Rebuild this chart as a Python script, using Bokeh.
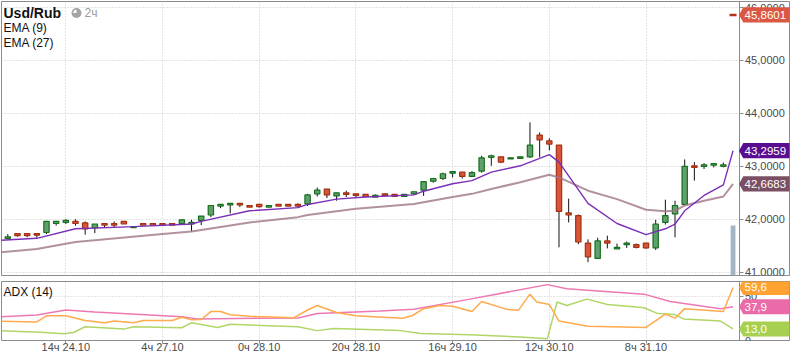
from bokeh.plotting import figure
from bokeh.models import (Range1d, FixedTicker, Label, PolyAnnotation, BoxAnnotation,
                          ColumnDataSource)
from bokeh.layouts import column
from bokeh.embed import file_html
from bokeh.resources import INLINE

# ---------------- data ----------------
candle_open = [41.64, 41.73, 41.73, 41.73, 41.75, 41.92, 41.94, 41.96, 41.93, 41.84,
               41.92, 41.92, 41.96, 41.84, 41.92, 41.92, 41.92, 41.92, 41.92, 41.91,
               41.98, 42.08, 42.25, 42.27, 42.30, 42.26, 42.28, 42.23, 42.28, 42.28,
               42.28, 42.29, 42.48, 42.57, 42.44, 42.50, 42.48, 42.47, 42.42, 42.48,
               42.47, 42.43, 42.48, 42.55, 42.72, 42.77, 42.87, 42.89, 42.81, 42.91,
               43.17, 43.18, 43.14, 43.15, 43.18, 43.59, 43.48, 43.40, 42.12, 42.07,
               41.55, 41.26, 41.59, 41.44, 41.52, 41.52, 41.55, 41.46, 41.94, 42.10,
               42.28, 43.01, 43.00, 43.02, 43.00]
candle_high = [41.72, 41.73, 41.73, 41.73, 41.96, 41.96, 42.00, 42.00, 41.96, 41.91,
               41.92, 41.96, 41.96, 41.86, 41.92, 41.92, 41.92, 41.92, 41.99, 41.99,
               42.06, 42.26, 42.28, 42.30, 42.30, 42.26, 42.28, 42.26, 42.28, 42.28,
               42.30, 42.48, 42.60, 42.57, 42.50, 42.54, 42.48, 42.47, 42.47, 42.48,
               42.47, 42.47, 42.52, 42.71, 42.78, 42.88, 42.90, 42.89, 42.91, 43.20,
               43.22, 43.18, 43.16, 43.18, 43.83, 43.64, 43.53, 43.40, 42.39, 42.09,
               41.62, 41.65, 41.69, 41.54, 41.58, 41.54, 41.55, 41.99, 42.37, 42.35,
               43.13, 43.08, 43.06, 43.05, 43.07]
candle_low = [41.64, 41.67, 41.66, 41.65, 41.72, 41.88, 41.91, 41.88, 41.71, 41.74,
              41.85, 41.85, 41.91, 41.84, 41.89, 41.89, 41.89, 41.89, 41.92, 41.77,
              41.89, 42.04, 42.21, 42.11, 42.23, 42.23, 42.22, 42.23, 42.25, 42.25,
              42.22, 42.25, 42.43, 42.40, 42.35, 42.42, 42.42, 42.42, 42.42, 42.45,
              42.43, 42.43, 42.47, 42.44, 42.69, 42.74, 42.79, 42.77, 42.80, 42.88,
              43.01, 43.06, 43.14, 43.15, 43.16, 43.17, 43.30, 41.47, 41.94, 41.53,
              41.19, 41.25, 41.45, 41.44, 41.46, 41.45, 41.44, 41.42, 41.90, 41.66,
              42.26, 42.73, 42.95, 42.98, 42.98]
candle_close = [41.67, 41.69, 41.69, 41.70, 41.96, 41.96, 41.98, 41.92, 41.82, 41.91,
                41.89, 41.89, 41.91, 41.86, 41.89, 41.89, 41.89, 41.89, 41.99, 41.94,
                42.06, 42.26, 42.28, 42.30, 42.27, 42.23, 42.24, 42.26, 42.25, 42.25,
                42.25, 42.46, 42.55, 42.46, 42.50, 42.47, 42.45, 42.43, 42.45, 42.45,
                42.43, 42.47, 42.52, 42.71, 42.77, 42.86, 42.90, 42.81, 42.88, 43.16,
                43.20, 43.08, 43.16, 43.18, 43.40, 43.50, 43.42, 42.15, 42.08, 41.57,
                41.29, 41.59, 41.55, 41.47, 41.55, 41.47, 41.46, 41.91, 42.07, 42.26,
                43.00, 42.98, 43.03, 43.05, 43.03]

ema9_idx = [-1, 3, 7, 13, 19, 20, 25, 30, 31, 34, 37, 42, 43, 46, 48, 50, 53,
            56, 57, 60, 63, 66, 68, 69, 70, 72, 74, 75]
ema9_val = [41.60, 41.64, 41.82, 41.86, 41.91, 41.96, 42.16, 42.22, 42.28, 42.38,
            42.42, 42.46, 42.53, 42.67, 42.73, 42.89, 43.01, 43.22, 43.08, 42.30,
            41.92, 41.71, 41.82, 41.91, 42.16, 42.45, 42.65, 43.2959]

ema27_idx = [-1, 3, 7, 16, 19, 25, 30, 31, 36, 42, 46, 48, 50, 53, 56, 57, 60,
             63, 66, 68, 69, 70, 72, 74, 75]
ema27_val = [41.37, 41.44, 41.57, 41.72, 41.77, 41.94, 42.04, 42.08, 42.20, 42.29,
             42.42, 42.48, 42.57, 42.70, 42.84, 42.79, 42.54, 42.38, 42.18, 42.15,
             42.16, 42.26, 42.35, 42.43, 42.6683]

adx_idx = [-1, 3, 6, 9, 18, 19.6, 30, 32, 38.5, 42, 47.8, 55.8, 57.8, 65.8, 68.5, 73.7, 75]
adx_val = [26.5, 28.6, 34.3, 32.1, 26.8, 24.3, 25.4, 30.4, 33.2, 35.0, 46.5, 62.8,
           58.2, 52.1, 43.9, 35.8, 37.9]

pdi_idx = [-1, 3, 4, 6, 8, 10, 11, 13, 14, 17, 18, 19, 20, 21, 22, 23, 25, 29.6,
           31, 32, 34, 36, 40.8, 41.8, 43, 44.7, 46, 48, 49, 51.6, 52.8, 54, 54.7,
           56, 57, 60, 66, 68, 69, 70, 74, 75]
pdi_val = [21.8, 20.8, 27.8, 27.8, 22.5, 20.0, 21.8, 20.0, 22.5, 22.5, 26.1, 23.2,
           23.6, 32.5, 32.5, 28.9, 27.2, 25.7, 34.3, 39.3, 31.5, 27.8, 25.1, 27.8,
           35.8, 39.3, 38.5, 32.5, 43.9, 35.0, 33.9, 52.1, 43.3, 40.4, 21.8, 16.1,
           14.7, 29.7, 25.1, 35.8, 32.5, 59.6]

mdi_idx = [-1, 3.4, 5.8, 6.8, 8, 12, 13, 18, 19, 21.7, 23, 30, 32, 33.7, 40.6,
           42.7, 47.8, 53, 55.8, 56.8, 57.8, 59.9, 62, 65.8, 67.1, 68.9, 69.9, 73.7, 75]
mdi_val = [11.1, 9.3, 7.5, 9.0, 15.4, 12.8, 15.4, 14.3, 20.0, 14.7, 18.2, 15.4,
           11.1, 13.6, 11.1, 7.9, 6.4, 4.0, 2.1, 43.3, 39.3, 46.5, 40.4, 36.8, 30.7,
           29.3, 24.3, 21.8, 13.0]

x_tick_idx = [6, 16, 26, 36, 46, 56, 66]
x_tick_labels = ["14ч 24.10", "4ч 27.10", "0ч 28.10", "20ч 28.10",
                 "16ч 29.10", "12ч 30.10", "8ч 31.10"]
price_ticks = [41, 42, 43, 44, 45, 46]
price_tick_labels = ["41,0000", "42,0000", "43,0000", "44,0000", "45,0000", "46,0000"]
adx_ticks = [0, 50]
adx_tick_labels = ["0", "50"]

marker_idx = [75]
marker_price = [45.8601]
volume_idx = [75]
volume_top = [41.88]

# ---------------- layout constants (pixels 1:1 with the reference) ----------------
W = 790
H1, H2 = 278, 77
PPX = 9.67                 # pixels per candle
C0 = 7.3                   # pixel x of candle 0
X0 = (1 - C0) / PPX        # frame starts at x=1
AXIS_PX = 738.5            # price axis line
X_AXIS = (AXIS_PX - C0) / PPX
X_END = (W - 1 - C0) / PPX
PPY1 = (271.7 - 7.0) / 5.0
Y1_1 = 46 + (7.0 - 1) / PPY1
Y1_0 = 41 - (275 - 271.7) / PPY1
PPY2 = (342 - 296) / 50.0
Y2_0 = 0
Y2_1 = (342 - 281) / PPY2


def dx(px):
    return (px - C0) / PPX


def dy1(py):
    return Y1_1 - (py - 1) / PPY1


def dy2(py):
    return Y2_1 - (py - 281) / PPY2


FONT = "Liberation Sans"
GRID = "#c8c8c8"
FRAME = "#8c8c8c"

xr = Range1d(X0, X_END)


def style_value_axis(ax, ticks, labels):
    ax.ticker = FixedTicker(ticks=ticks)
    ax.major_label_overrides = {t: l for t, l in zip(ticks, labels)}
    ax.fixed_location = X_AXIS
    ax.axis_line_color = FRAME
    ax.major_tick_line_color = FRAME
    ax.major_tick_out = 4
    ax.major_tick_in = 0
    ax.minor_tick_line_color = None
    ax.major_label_standoff = 2
    ax.major_label_text_font = FONT
    ax.major_label_text_font_size = "11px"
    ax.major_label_text_color = "#4a4a4a"


def cover_axis_area(plot, y0, y1, ppy):
    plot.add_layout(BoxAnnotation(left=X_AXIS, right=X_END - 1.0 / PPX,
                                  bottom=y0 + 1.0 / ppy, top=y1 - 1.0 / ppy,
                                  fill_color="white", fill_alpha=1, line_color=None,
                                  level="underlay"))


def add_tag(plot, val, half, color, txt):
    plot.add_layout(PolyAnnotation(
        xs=[X_AXIS, dx(AXIS_PX + 4.3), dx(W + 10), dx(W + 10), dx(AXIS_PX + 4.3)],
        ys=[val, val + half, val + half, val - half, val - half],
        fill_color=color, fill_alpha=1, line_color=None, level="overlay"))
    plot.add_layout(Label(x=dx(AXIS_PX + 5.5), y=val, text=txt,
                          text_font=FONT, text_font_size="11.5px", text_color="white",
                          text_baseline="middle", text_align="left", level="overlay"))


def fmt4(v):
    return f"{v:.4f}".replace(".", ",")


def fmt1(v):
    return f"{v:.1f}".replace(".", ",")


# ---------------- main price panel ----------------
p1 = figure(width=W, height=H1, x_range=xr, y_range=Range1d(Y1_0, Y1_1),
            output_backend="svg", toolbar_location=None,
            x_axis_location=None, y_axis_location="right",
            min_border_left=1, min_border_right=1, min_border_top=1, min_border_bottom=3)
p1.outline_line_color = FRAME
p1.background_fill_color = "white"
p1.border_fill_color = "white"

style_value_axis(p1.yaxis[0], price_ticks, price_tick_labels)

p1.ygrid.grid_line_color = GRID
p1.ygrid.grid_line_dash = "1 2"
p1.xgrid.ticker = FixedTicker(ticks=x_tick_idx)
p1.xgrid.grid_line_color = GRID
p1.xgrid.grid_line_dash = "1 2"
cover_axis_area(p1, Y1_0, Y1_1, PPY1)

n = len(candle_close)
up = [c >= o for o, c in zip(candle_open, candle_close)]
src = ColumnDataSource(dict(
    x=list(range(n)),
    high=candle_high, low=candle_low,
    top=[max(o, c) for o, c in zip(candle_open, candle_close)],
    bottom=[min(o, c) for o, c in zip(candle_open, candle_close)],
    fill=["#60a070" if u else "#d8553b" for u in up],
    line=["#17701c" if u else "#a3310f" for u in up],
))

p1.vbar(x=volume_idx, top=volume_top, bottom=Y1_0 - 1, width=0.5,
        fill_color="#a4b6c3", line_color=None)
p1.segment(x0="x", y0="high", x1="x", y1="low", source=src,
           line_color="#111111", line_width=1)
p1.vbar(x="x", width=0.55, top="top", bottom="bottom", source=src,
        fill_color="fill", line_color="line", line_width=1.2)

p1.line(ema27_idx, ema27_val, line_color="#9d7686", line_width=2, line_alpha=0.8)
p1.line(ema9_idx, ema9_val, line_color="#7a2fb8", line_width=1.4)

p1.scatter(x=marker_idx, y=marker_price, marker="dash", size=7,
           line_color="#b0341a", line_width=2.5)

# header texts
p1.add_layout(Label(x=dx(3), y=dy1(12.5), text="Usd/Rub", text_font=FONT,
                    text_font_style="bold", text_font_size="14px",
                    text_color="#111111", text_baseline="middle"))
p1.add_layout(Label(x=dx(3), y=dy1(27), text="EMA (9)", text_font=FONT,
                    text_font_size="12px", text_color="#111111", text_baseline="middle"))
p1.add_layout(Label(x=dx(3), y=dy1(42), text="EMA (27)", text_font=FONT,
                    text_font_size="12px", text_color="#111111", text_baseline="middle"))
p1.scatter(x=[dx(76)], y=[dy1(12.5)], marker="circle", size=10,
           fill_color="#a4a4a4", line_color=None)
p1.wedge(x=[dx(76)], y=[dy1(12.5)], radius=3.2, radius_units="screen",
         start_angle=1.5708, end_angle=3.1416, fill_color="white", line_color=None)
p1.add_layout(Label(x=dx(84), y=dy1(12.5), text="2ч", text_font=FONT,
                    text_font_size="12px", text_color="#9a9a9a", text_baseline="middle"))

H_MAIN = 7.7 / PPY1
add_tag(p1, marker_price[0], H_MAIN, "#dc5741", fmt4(marker_price[0]))
add_tag(p1, ema9_val[-1], H_MAIN, "#5b0d8f", fmt4(ema9_val[-1]))
add_tag(p1, ema27_val[-1], H_MAIN, "#7b4f63", fmt4(ema27_val[-1]))

# ---------------- ADX panel ----------------
p2 = figure(width=W, height=H2, x_range=xr, y_range=Range1d(Y2_0, Y2_1),
            output_backend="svg", toolbar_location=None, y_axis_location="right",
            min_border_left=1, min_border_right=1, min_border_top=3, min_border_bottom=13)
p2.outline_line_color = FRAME
p2.background_fill_color = "white"
p2.border_fill_color = "white"

xa = p2.xaxis[0]
xa.ticker = FixedTicker(ticks=x_tick_idx)
xa.major_label_overrides = {t: l for t, l in zip(x_tick_idx, x_tick_labels)}
xa.axis_line_color = None
xa.major_tick_line_color = FRAME
xa.major_tick_out = 3
xa.major_tick_in = 0
xa.minor_tick_line_color = None
xa.major_label_standoff = -3
xa.major_label_text_font = FONT
xa.major_label_text_font_size = "11px"
xa.major_label_text_color = "#4a4a4a"

style_value_axis(p2.yaxis[0], adx_ticks, adx_tick_labels)

p2.xgrid.grid_line_color = GRID
p2.xgrid.grid_line_dash = "1 2"
p2.ygrid.grid_line_color = GRID
p2.ygrid.grid_line_dash = "1 2"
cover_axis_area(p2, Y2_0, Y2_1, PPY2)

p2.line(adx_idx, adx_val, line_color="#ee78b2", line_width=1.5)
p2.line(mdi_idx, mdi_val, line_color="#b0d568", line_width=1.5)
p2.line(pdi_idx, pdi_val, line_color="#ffaa4c", line_width=1.5)

p2.add_layout(Label(x=dx(3), y=dy2(292), text="ADX (14)", text_font=FONT,
                    text_font_size="12px", text_color="#111111", text_baseline="middle"))

H_ADX = 7.7 / PPY2
add_tag(p2, pdi_val[-1], H_ADX, "#ffa232", fmt1(pdi_val[-1]))
add_tag(p2, adx_val[-1], H_ADX, "#ea6ba7", fmt1(adx_val[-1]))
add_tag(p2, mdi_val[-1], H_ADX, "#a8d050", fmt1(mdi_val[-1]))

layout = column(p1, p2, spacing=0)
open("out.html", "w").write(file_html(layout, INLINE))
